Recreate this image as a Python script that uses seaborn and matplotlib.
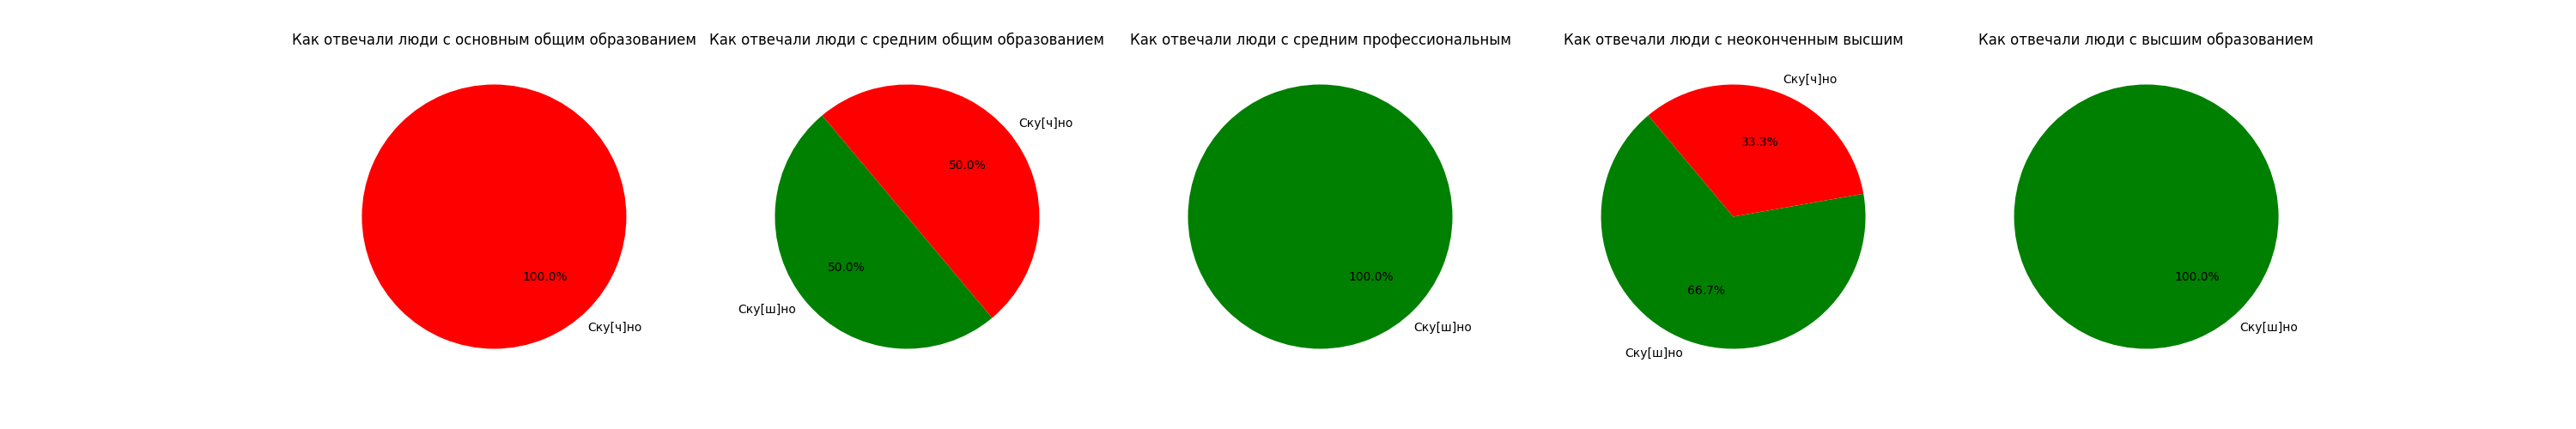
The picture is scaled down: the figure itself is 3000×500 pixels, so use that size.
import matplotlib
matplotlib.use("Agg")
import matplotlib.pyplot as plt
import seaborn as sns

# Answers grouped by education level
titles = [
    'Как отвечали люди с основным общим образованием',
    'Как отвечали люди с средним общим образованием',
    'Как отвечали люди с средним профессиональным',
    'Как отвечали люди с неоконченным высшим',
    'Как отвечали люди с высшим образованием',
]
group_labels = [
    ['Скучно'],
    ['Скушно', 'Скучно'],
    ['Скушно'],
    ['Скушно', 'Скучно'],
    ['Скушно'],
]
group_counts = [
    [1],
    [1, 1],
    [1],
    [2, 1],
    [1],
]
display_names = {'Скучно': 'Ску[ч]но', 'Скушно': 'Ску[ш]но'}
palette = dict(zip(['Скушно', 'Скучно'], sns.color_palette(['green', 'red'])))
start = 130

fig = plt.figure(figsize=(30, 5))
for i, title in enumerate(titles):
    ax = plt.subplot(1, 5, i + 1)
    labels = group_labels[i]
    wedges, texts, autotexts = ax.pie(group_counts[i],
                                      labels=[display_names[l] for l in labels],
                                      colors=[palette[l] for l in labels],
                                      autopct='%1.1f%%', startangle=start)
    # full-circle wedge gets lost to float rounding, set it exactly
    if len(wedges) == 1:
        wedges[0].set_theta1(start)
        wedges[0].set_theta2(start + 360)
    ax.set_title(title)

plt.savefig('out.png', dpi=100)
